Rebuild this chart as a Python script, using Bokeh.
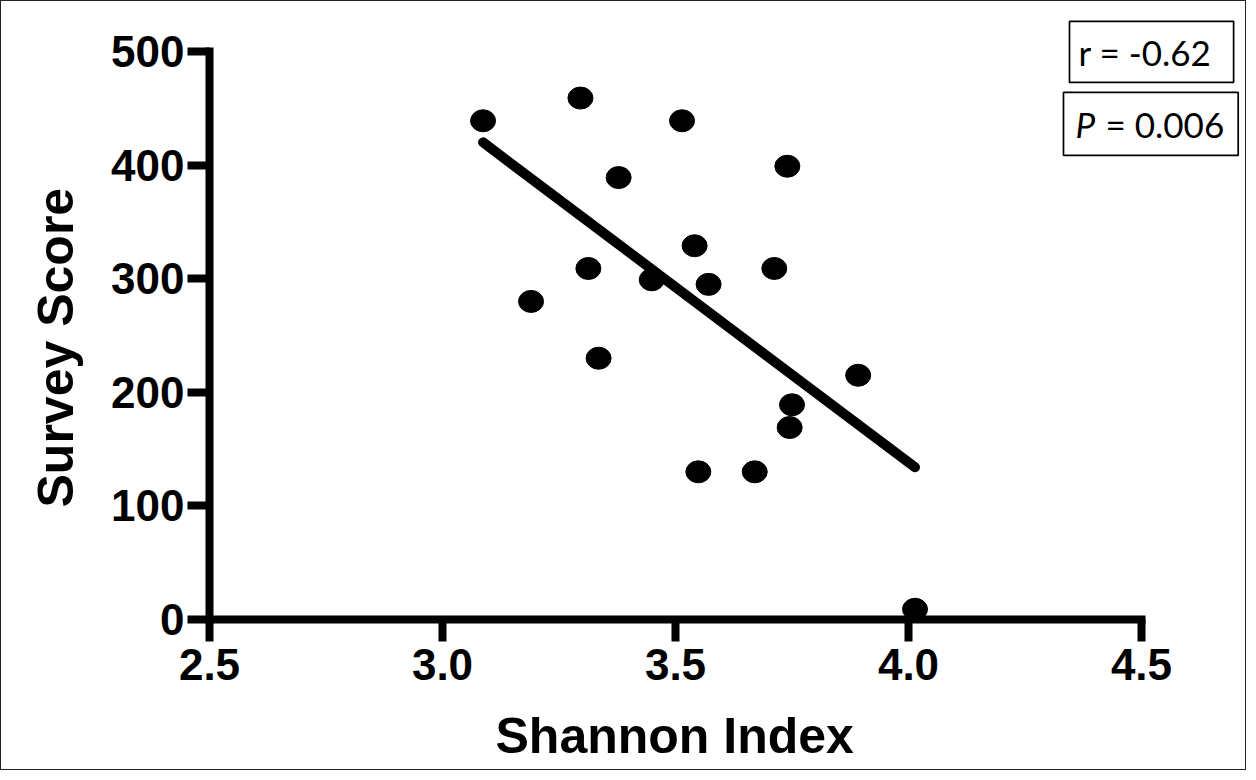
from bokeh.plotting import figure
from bokeh.models import FixedTicker, PrintfTickFormatter, Label, ColumnDataSource, Range1d
from bokeh.embed import file_html
from bokeh.resources import INLINE

# ---- data ----
shannon = [3.087, 3.296, 3.514, 3.378, 3.740, 3.541, 3.313, 3.449, 3.571,
           3.712, 3.190, 3.335, 3.892, 3.750, 3.745, 3.549, 3.670, 4.014]
score = [439, 459, 439, 389, 399, 329, 309, 299, 295,
         309, 280, 230, 215, 189, 169, 130, 130, 9]
fit_x = [3.087, 4.014]
fit_y = [420, 134]
x_ticks = [2.5, 3.0, 3.5, 4.0, 4.5]
y_ticks = [0, 100, 200, 300, 400, 500]
x_title = "Shannon Index"
y_title = "Survey Score"
r_text = "r = -0.62"
p_symbol = "P"
p_text = "= 0.006"

src = ColumnDataSource(dict(x=shannon, y=score))

# the frame fills the whole canvas; the axes sit at fixed data locations
p = figure(width=1246, height=770,
           x_range=Range1d(2.0536, 4.7275), y_range=Range1d(-133.8, 544.0),
           output_backend="svg", toolbar_location=None,
           min_border_left=0, min_border_right=0,
           min_border_top=0, min_border_bottom=0)
p.styles = {"border": "1px solid #222222"}
p.grid.visible = False
p.outline_line_color = None
p.background_fill_color = "white"
p.border_fill_color = "white"

p.ellipse(x="x", y="y", width=25, height=22, width_units="screen",
          height_units="screen", source=src, fill_color="black", line_color="black")
p.line(fit_x, fit_y, line_width=10, line_color="black", line_cap="round")

p.xaxis.ticker = FixedTicker(ticks=x_ticks)
p.yaxis.ticker = FixedTicker(ticks=y_ticks)
p.xaxis.formatter = PrintfTickFormatter(format="%.1f")
p.yaxis.formatter = PrintfTickFormatter(format="%d")
p.xaxis.bounds = (x_ticks[0], x_ticks[-1])
p.yaxis.bounds = (y_ticks[0], y_ticks[-1])
p.xaxis.fixed_location = y_ticks[0]
p.yaxis.fixed_location = x_ticks[0]

for ax in (p.xaxis[0], p.yaxis[0]):
    ax.axis_line_width = 8
    ax.axis_line_color = "black"
    ax.axis_line_cap = "square"
    ax.major_tick_line_width = 8
    ax.major_tick_line_color = "black"
    ax.major_tick_out = 22
    ax.major_tick_in = 0
    ax.minor_tick_out = 0
    ax.minor_tick_in = 0
    ax.major_label_text_font = "Liberation Sans"
    ax.major_label_text_font_style = "bold"
    ax.major_label_text_font_size = "44px"
    ax.major_label_text_color = "black"

p.xaxis.major_label_standoff = 8
p.yaxis.major_label_standoff = 3

xt = Label(x=3.1137, y=-102.6, text=x_title, text_align="left",
           text_baseline="alphabetic", text_font="Liberation Sans",
           text_font_style="bold", text_font_size="50px", text_color="black")
p.add_layout(xt)
yt = Label(x=2.1706, y=98.6, text=y_title, angle=90, angle_units="deg",
           text_align="left", text_baseline="alphabetic",
           text_font="Liberation Sans", text_font_style="bold",
           text_font_size="50px", text_color="black")
p.add_layout(yt)

r_label = Label(x=4.3455, y=499.6, text=r_text, text_font="Lato",
                text_font_size="35px", text_color="black",
                text_align="left", text_baseline="middle",
                border_line_color="black", border_line_width=1.7,
                background_fill_color="white",
                padding=dict(left=9, right=22, top=10, bottom=9))
p.add_layout(r_label)

p_box = Label(x=4.3326, y=436.2, text=p_text, text_font="Lato",
              text_font_size="35px", text_color="black",
              text_align="left", text_baseline="middle",
              border_line_color="black", border_line_width=1.7,
              background_fill_color="white",
              padding=dict(left=42, right=14, top=11, bottom=10))
p.add_layout(p_box)

p_sym = Label(x=4.3584, y=436.2, text=p_symbol, text_font="Lato",
              text_font_size="35px", text_font_style="italic", text_color="black",
              text_align="left", text_baseline="middle")
p.add_layout(p_sym)

open("out.html", "w").write(file_html(p, INLINE))
